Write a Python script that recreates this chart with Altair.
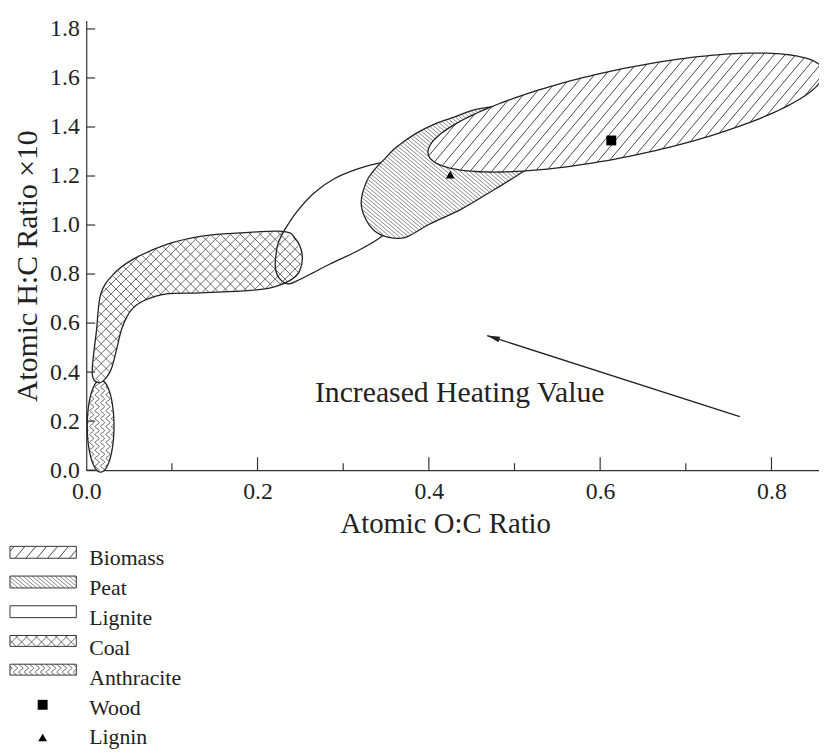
import numpy as np
import pandas as pd
import altair as alt

# ---------------- values ----------------
x_label_values = [0.0, 0.2, 0.4, 0.6, 0.8]
x_major_ticks = [0.2, 0.4, 0.6, 0.8]
x_minor_ticks = [0.1, 0.3, 0.5, 0.7]
y_tick_values = [0.0, 0.2, 0.4, 0.6, 0.8, 1.0, 1.2, 1.4, 1.6, 1.8]

# ellipse regions: centre and two semi-axis vectors (data units)
biomass_center = [0.630, 1.459]
biomass_u = [0.2308, 0.1693]
biomass_v = [0.0104, -0.1740]

anthracite_center = [0.0168, 0.180]
anthracite_u = [0.0, 0.188]
anthracite_v = [0.0156, 0.0]

# irregular regions: boundary vertices (data units)
peat_x = [0.321, 0.327, 0.336, 0.347, 0.362, 0.385, 0.408, 0.431, 0.454, 0.489, 0.524,
          0.538, 0.524, 0.504, 0.478, 0.439, 0.400, 0.373, 0.353, 0.336, 0.325]
peat_y = [1.095, 1.176, 1.224, 1.265, 1.317, 1.374, 1.414, 1.442, 1.471, 1.483, 1.442,
          1.358, 1.257, 1.204, 1.148, 1.067, 1.002, 0.950, 0.950, 0.978, 1.034]

lignite_x = [0.221, 0.224, 0.232, 0.246, 0.266, 0.289, 0.316, 0.342, 0.368, 0.387, 0.391,
             0.379, 0.362, 0.342, 0.316, 0.284, 0.264, 0.246, 0.235, 0.225, 0.221]
lignite_y = [0.861, 0.925, 0.982, 1.055, 1.131, 1.188, 1.228, 1.253, 1.257, 1.224, 1.156,
             1.075, 1.006, 0.946, 0.893, 0.840, 0.804, 0.772, 0.760, 0.784, 0.820]

coal_x = [0.007, 0.012, 0.017, 0.032, 0.055, 0.094, 0.133, 0.171, 0.229, 0.244, 0.252, 0.249,
          0.237, 0.214, 0.183, 0.133, 0.094, 0.067, 0.052, 0.042, 0.036, 0.030, 0.024, 0.015]
coal_y = [0.396, 0.570, 0.719, 0.800, 0.861, 0.921, 0.954, 0.966, 0.974, 0.945, 0.881, 0.812,
          0.772, 0.743, 0.731, 0.723, 0.719, 0.691, 0.651, 0.582, 0.501, 0.420, 0.380, 0.356]

wood_point = [0.613, 1.345]
lignin_point = [0.425, 1.206]
arrow_tail = [0.763, 0.218]
arrow_head = [0.468, 0.549]
annotation_text = "Increased Heating Value"
annotation_pos = [0.267, 0.279]

legend_labels = ["Biomass", "Peat", "Lignite", "Coal", "Anthracite", "Wood", "Lignin"]

# ---------------- layout ----------------
FONT = "Liberation Serif"
INK = "#222222"
PXX, PXY = 865.0, 247.5          # pixels per data unit
W, H = 740, 454                   # plot area
XMAX, YMAX = W / PXX, H / PXY
PAD_L, PAD_T = 79, 9


def to_px(x, y):
    return np.asarray(x, float) * PXX, H - np.asarray(y, float) * PXY


def to_data(px, py):
    return np.asarray(px, float) / PXX, (H - np.asarray(py, float)) / PXY


def page_to_data(px, py):
    return to_data(np.asarray(px, float) - (PAD_L + 8), np.asarray(py, float) - (PAD_T + 8))


def ellipse_pts(c, u, v, n=180):
    t = np.linspace(0, 2 * np.pi, n, endpoint=False)
    return (c[0] + u[0] * np.cos(t) + v[0] * np.sin(t),
            c[1] + u[1] * np.cos(t) + v[1] * np.sin(t))


def inside(px, py, vx, vy):
    res = np.zeros(px.shape, bool)
    n = len(vx)
    j = n - 1
    for i in range(n):
        xi, yi, xj, yj = vx[i], vy[i], vx[j], vy[j]
        cond = (yi > py) != (yj > py)
        with np.errstate(divide="ignore", invalid="ignore"):
            xint = (xj - xi) * (py - yi) / (yj - yi) + xi
        res ^= cond & (px < xint)
        j = i
    return res


def hatch_segments(vx, vy, angle, spacing, amp=0.0, period=8.0):
    vx = np.asarray(vx, float)
    vy = np.asarray(vy, float)
    a = np.radians(angle)
    d = np.array([np.cos(a), -np.sin(a)])
    nv = np.array([np.sin(a), np.cos(a)])
    corners = np.array([[vx.min(), vy.min()], [vx.min(), vy.max()],
                        [vx.max(), vy.min()], [vx.max(), vy.max()]])
    pn = corners @ nv
    pdd = corners @ d
    s = np.arange(pdd.min() - 2, pdd.max() + 2, 0.4)
    wave = amp * np.sin(2 * np.pi * s / period) if amp else np.zeros_like(s)
    segs = []
    for k in np.arange(np.floor((pn.min() - amp) / spacing), np.ceil((pn.max() + amp) / spacing) + 1):
        o = k * spacing + wave
        px = o * nv[0] + s * d[0]
        py = o * nv[1] + s * d[1]
        m = inside(px, py, vx, vy)
        edges = np.flatnonzero(np.diff(np.r_[0, m.astype(int), 0]))
        for st, en in zip(edges[::2], edges[1::2]):
            if en - st < 2:
                continue
            if amp:
                segs.append((px[st:en], py[st:en]))
            else:
                segs.append((px[[st, en - 1]], py[[st, en - 1]]))
    return segs


def segs_df(seg_list):
    rows = []
    for sid, (sx, sy) in enumerate(seg_list):
        dx, dy = to_data(sx, sy)
        for i, (a, b) in enumerate(zip(dx, dy)):
            rows.append((sid, i, a, b))
    return pd.DataFrame(rows, columns=["seg", "i", "x", "y"])


def poly_df(xs, ys):
    return pd.DataFrame({"x": np.asarray(xs, float), "y": np.asarray(ys, float), "i": np.arange(len(xs))})


# patterns: (angle, spacing, amp, period)
PATTERNS = {
    "Biomass": [(50, 8.4, 0, 8)],
    "Peat": [(-40, 3.0, 0, 8)],
    "Coal": [(45, 7.1, 0, 8), (-45, 7.1, 0, 8)],
    "Anthracite": [(90, 5.5, 2.0, 8.0)],
}
HATCH_STYLE = {
    "Biomass": ("#333333", 0.9),
    "Peat": ("#555555", 0.7),
    "Coal": ("#444444", 0.8),
    "Anthracite": ("#444444", 0.9),
}

X = alt.X("x:Q", scale=alt.Scale(domain=[0, XMAX], nice=False, zero=False),
          axis=alt.Axis(values=x_label_values, format=".1f", title=None, grid=False, ticks=False,
                        tickSize=0, labelFont=FONT, labelFontSize=24, labelColor=INK,
                        labelPadding=10, labelFlush=False, labelOverlap=False, labelBound=False,
                        domainColor="#333333", domainWidth=1.2))
Y = alt.Y("y:Q", scale=alt.Scale(domain=[0, YMAX], nice=False, zero=False),
          axis=alt.Axis(values=y_tick_values, format=".1f", title=None, grid=False, ticks=False,
                        tickSize=0, labelFont=FONT, labelFontSize=24, labelColor=INK,
                        labelPadding=7, labelFlush=False, labelOverlap=False, labelBound=False,
                        domainColor="#333333", domainWidth=1.2))


def hatch_layers(name, vx_px, vy_px):
    out = []
    color, sw = HATCH_STYLE[name]
    for ang, sp, amp, per in PATTERNS[name]:
        df = segs_df(hatch_segments(vx_px, vy_px, ang, sp, amp, per))
        if len(df):
            out.append(alt.Chart(df).mark_line(color=color, strokeWidth=sw, interpolate="linear")
                       .encode(X, Y, detail="seg:N", order="i:Q"))
    return out


def region_layers(name, xs, ys, interp, filled=True):
    df = poly_df(xs, ys)
    out = []
    if filled:
        out.append(alt.Chart(df).mark_line(fill="white", strokeOpacity=0, interpolate=interp)
                   .encode(X, Y, order="i:Q"))
    if name in PATTERNS:
        vx, vy = to_px(xs, ys)
        out += hatch_layers(name, vx, vy)
    out.append(alt.Chart(df).mark_line(color=INK, strokeWidth=1.3, interpolate=interp)
               .encode(X, Y, order="i:Q"))
    return out


layers = []
ax_, ay_ = ellipse_pts(anthracite_center, anthracite_u, anthracite_v)
layers += region_layers("Anthracite", ax_, ay_, "linear-closed")
layers += region_layers("Coal", coal_x, coal_y, "cardinal-closed")
layers += region_layers("Lignite", lignite_x, lignite_y, "cardinal-closed", filled=False)
layers += region_layers("Peat", peat_x, peat_y, "cardinal-closed")
bx_, by_ = ellipse_pts(biomass_center, biomass_u, biomass_v)
layers += region_layers("Biomass", bx_, by_, "linear-closed")

# sample points
layers.append(alt.Chart(pd.DataFrame({"x": [wood_point[0]], "y": [wood_point[1]]}))
              .mark_point(shape="square", filled=True, size=100, color="black", opacity=1).encode(X, Y))
layers.append(alt.Chart(pd.DataFrame({"x": [lignin_point[0]], "y": [lignin_point[1]]}))
              .mark_point(shape="triangle-up", filled=True, size=80, color="black", opacity=1).encode(X, Y))

# arrow + annotation
layers.append(alt.Chart(pd.DataFrame({"x": [arrow_tail[0]], "y": [arrow_tail[1]],
                                      "x2": [arrow_head[0]], "y2": [arrow_head[1]]}))
              .mark_rule(color=INK, strokeWidth=1.3).encode(X, Y, x2="x2:Q", y2="y2:Q"))
layers.append(alt.Chart(pd.DataFrame({"x": [arrow_head[0]], "y": [arrow_head[1]]}))
              .mark_point(shape="M0,0 L2,-0.45 L2,0.45 Z", filled=True, size=169, angle=18,
                          color=INK, opacity=1).encode(X, Y))
layers.append(alt.Chart(pd.DataFrame({"x": [annotation_pos[0]], "y": [annotation_pos[1]],
                                      "t": [annotation_text]}))
              .mark_text(font=FONT, fontSize=30, color=INK, align="left", baseline="alphabetic")
              .encode(X, Y, text="t:N"))

# inward ticks
layers.append(alt.Chart(pd.DataFrame({"x": x_major_ticks})).mark_rule(color="#333333", strokeWidth=1.2)
              .encode(X, y=alt.value(H), y2=alt.value(H - 13)))
layers.append(alt.Chart(pd.DataFrame({"x": x_minor_ticks})).mark_rule(color="#333333", strokeWidth=1.2)
              .encode(X, y=alt.value(H), y2=alt.value(H - 7)))
layers.append(alt.Chart(pd.DataFrame({"y": y_tick_values})).mark_rule(color="#333333", strokeWidth=1.2)
              .encode(Y, x=alt.value(0), x2=alt.value(9)))

# axis titles
layers.append(alt.Chart(pd.DataFrame({"t": ["Atomic O:C Ratio"]}))
              .mark_text(font=FONT, fontSize=29, color=INK, align="center", baseline="alphabetic")
              .encode(x=alt.value(363), y=alt.value(518), text="t:N"))
layers.append(alt.Chart(pd.DataFrame({"t": ["Atomic H:C Ratio \u00d710"]}))
              .mark_text(font=FONT, fontSize=30, color=INK, align="center", baseline="middle", angle=270)
              .encode(x=alt.value(-59), y=alt.value(248), text="t:N"))

# ---------------- legend ----------------
sw_x0, sw_x1 = 10, 77
sw_rows = [(548, 560), (578, 590), (608, 620), (638, 649), (667, 678)]
sw_names = legend_labels[:5]
rect_rows = []
for name, (y0, y1) in zip(sw_names, sw_rows):
    vx = np.array([sw_x0, sw_x1, sw_x1, sw_x0], float) - (PAD_L + 8)
    vy = np.array([y0, y0, y1, y1], float) - (PAD_T + 8)
    if name in PATTERNS:
        layers += hatch_layers(name, vx, vy)
    dx, dy = to_data(vx, vy)
    rect_rows.append((dx.min(), dx.max(), dy.min(), dy.max()))
rect_df = pd.DataFrame(rect_rows, columns=["x", "x2", "y", "y2"])
layers.append(alt.Chart(rect_df).mark_rect(fillOpacity=0, stroke="#333333", strokeWidth=1)
              .encode(X, Y, x2="x2:Q", y2="y2:Q"))

lx, _ = page_to_data([90] * 7, [0] * 7)
_, ly = page_to_data([0] * 7, [567, 597, 627, 658, 688, 718, 748])
layers.append(alt.Chart(pd.DataFrame({"x": lx, "y": ly, "t": legend_labels}))
              .mark_text(font=FONT, fontSize=22, color=INK, align="left", baseline="alphabetic")
              .encode(X, Y, text="t:N"))
mx, my = page_to_data([43, 43], [708, 741])
layers.append(alt.Chart(pd.DataFrame({"x": [mx[0]], "y": [my[0]]}))
              .mark_point(shape="square", filled=True, size=100, color="black", opacity=1).encode(X, Y))
layers.append(alt.Chart(pd.DataFrame({"x": [mx[1]], "y": [my[1]]}))
              .mark_point(shape="triangle-up", filled=True, size=80, color="black", opacity=1).encode(X, Y))

chart = (alt.layer(*layers)
         .properties(width=W, height=H, background="white",
                     autosize=alt.AutoSizeParams(type="none"),
                     padding={"left": PAD_L, "top": PAD_T, "right": 0, "bottom": 744 - PAD_T - H})
         .configure_view(strokeWidth=0))

chart.save("out.html", embed_options={"renderer": "svg", "actions": False})
